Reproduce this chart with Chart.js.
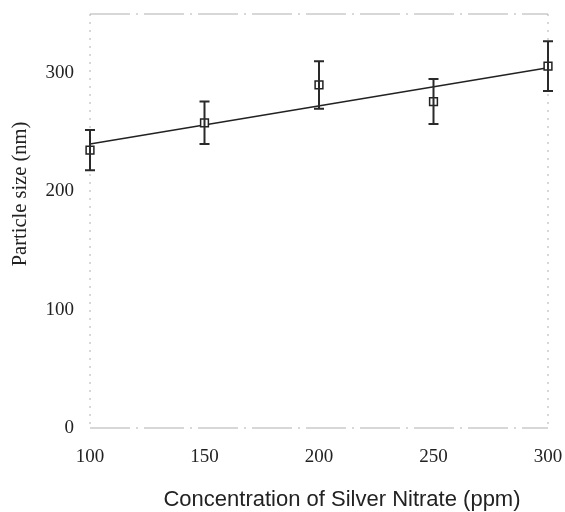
<!DOCTYPE html>
<html>
<head>
<meta charset="utf-8">
<script src="https://cdn.jsdelivr.net/npm/chart.js@4"></script>
<style>
  html, body { margin: 0; padding: 0; background: #fff; }
  #wrap { width: 565px; height: 512px; }
</style>
</head>
<body>
<div id="wrap"><canvas id="myChart"></canvas></div>
<script>
// concentration (ppm) and measured particle size (nm)
const concentration = [100, 150, 200, 250, 300];
const particleSize = [235, 258, 290, 276, 306];
const errorSize = [17, 18, 20, 19, 21];
// linear fit end points
const fitX = [100, 300];
const fitY = [240, 304.5];
const yTicks = [0, 100, 200, 300];
const xTitle = 'Concentration of Silver Nitrate (ppm)';
const yTitle = 'Particle size (nm)';

// error bars drawn through the scales
const errorBars = {
    id: 'errorBars',
    afterDatasetsDraw(chart) {
        const ctx = chart.ctx;
        const xs = chart.scales.x;
        const ys = chart.scales.y;
        ctx.save();
        ctx.strokeStyle = '#2a2a2a';
        ctx.lineWidth = 2;
        for (let i = 0; i < concentration.length; i++) {
            const x = xs.getPixelForValue(concentration[i]);
            const top = ys.getPixelForValue(particleSize[i] + errorSize[i]);
            const bot = ys.getPixelForValue(particleSize[i] - errorSize[i]);
            ctx.beginPath();
            ctx.moveTo(x, top); ctx.lineTo(x, bot);
            ctx.moveTo(x - 5, top); ctx.lineTo(x + 5, top);
            ctx.moveTo(x - 5, bot); ctx.lineTo(x + 5, bot);
            ctx.stroke();
        }
        ctx.restore();
    }
};

// faint broken frame round the plot, plus the axis titles
const frame = {
    id: 'frame',
    beforeDatasetsDraw(chart) {
        const a = chart.chartArea;
        const ctx = chart.ctx;
        ctx.save();
        ctx.strokeStyle = '#b0b0b0';
        ctx.lineWidth = 1;
        ctx.setLineDash([40, 6, 2, 6]);
        ctx.beginPath();
        ctx.moveTo(a.left, a.top); ctx.lineTo(a.right, a.top);
        ctx.moveTo(a.left, a.bottom); ctx.lineTo(a.right, a.bottom);
        ctx.stroke();
        ctx.setLineDash([2, 6]);
        ctx.beginPath();
        ctx.moveTo(a.left, a.top); ctx.lineTo(a.left, a.bottom);
        ctx.moveTo(a.right, a.top); ctx.lineTo(a.right, a.bottom);
        ctx.stroke();
        ctx.restore();
    },
    afterDraw(chart) {
        const a = chart.chartArea;
        const ctx = chart.ctx;
        ctx.save();
        ctx.fillStyle = '#222';
        ctx.textAlign = 'center';
        ctx.textBaseline = 'middle';
        ctx.font = '22px "Liberation Sans"';
        ctx.fillText(xTitle, (a.left + a.right) / 2 + 23, a.bottom + 72);
        ctx.font = '20.5px "Liberation Serif"';
        ctx.translate(21, (a.top + a.bottom) / 2 - 27);
        ctx.rotate(-Math.PI / 2);
        ctx.fillText(yTitle, 0, 0);
        ctx.restore();
    }
};

document.addEventListener('DOMContentLoaded', function() {
    const ctx = document.getElementById('myChart');

    new Chart(ctx, {
        type: 'scatter',
        data: {
            datasets: [{
                label: 'Particle size',
                data: concentration.map((c, i) => ({ x: c, y: particleSize[i] })),
                pointStyle: 'rect',
                pointRadius: 5.5,
                pointBackgroundColor: '#fff',
                pointBorderColor: '#222',
                pointBorderWidth: 1.5,
                clip: false,
                order: 0
            }, {
                label: 'Fit',
                type: 'line',
                data: fitX.map((c, i) => ({ x: c, y: fitY[i] })),
                borderColor: '#222',
                borderWidth: 1.5,
                pointRadius: 0,
                clip: false,
                order: 1
            }]
        },
        options: {
            responsive: true,
            maintainAspectRatio: false,
            animation: false,
            layout: { padding: { top: 14, right: 17, left: 0, bottom: 0 } },
            plugins: {
                legend: { display: false },
                tooltip: { enabled: false }
            },
            scales: {
                x: {
                    type: 'linear',
                    min: 100,
                    max: 300,
                    grid: { display: false, drawTicks: false },
                    border: { display: false },
                    ticks: {
                        stepSize: 50,
                        padding: 18,
                        color: '#222',
                        font: { family: 'Liberation Serif', size: 19 }
                    },
                    afterFit(scale) {
                        scale.height = 84;
                        scale.paddingLeft = 0;
                        scale.paddingRight = 0;
                    }
                },
                y: {
                    min: 0,
                    max: 350,
                    grid: { display: false, drawTicks: false },
                    border: { display: false },
                    afterBuildTicks(scale) {
                        scale.ticks = yTicks.map(v => ({ value: v }));
                    },
                    ticks: {
                        padding: 16,
                        color: '#222',
                        font: { family: 'Liberation Serif', size: 19 }
                    },
                    afterFit(scale) {
                        scale.width = 90;
                        scale.paddingTop = 0;
                        scale.paddingBottom = 0;
                    }
                }
            }
        },
        plugins: [frame, errorBars]
    });
});
</script>
</body>
</html>
